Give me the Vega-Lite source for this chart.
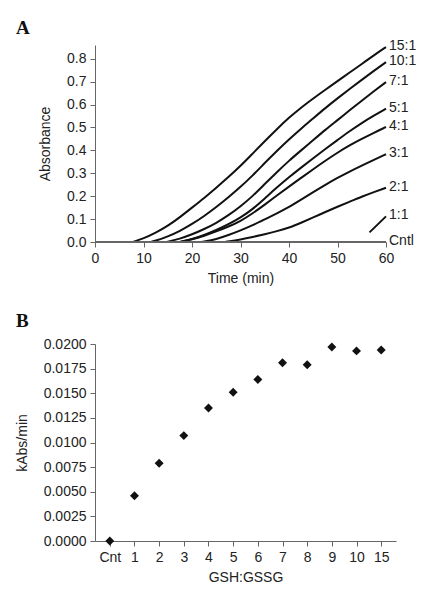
{
  "$schema": "https://vega.github.io/schema/vega-lite/v6.json",
  "background": "white",
  "padding": {"left": 15, "top": 19, "right": 5, "bottom": 5},
  "spacing": 27,
  "config": {
    "font": "Liberation Sans",
    "view": {"stroke": null},
    "axis": {
      "grid": false,
      "labelFontSize": 14,
      "titleFontSize": 14,
      "labelColor": "#222",
      "titleColor": "#222",
      "titleFontWeight": "normal",
      "domainColor": "#666",
      "tickColor": "#666",
      "tickSize": 5,
      "labelPadding": 4,
      "labelFlush": false
    },
    "axisX": {"titlePadding": 6},
    "axisY": {"titlePadding": 14},
    "title": {"font": "Liberation Serif", "fontSize": 19, "fontWeight": "bold", "color": "#111", "anchor": "start", "frame": "group", "dx": -79}
  },
  "datasets": {
    "curves": [
      {"series": "15:1", "t": 7.8, "absorbance": 0},
      {"series": "15:1", "t": 10, "absorbance": 0.015},
      {"series": "15:1", "t": 12.5, "absorbance": 0.04},
      {"series": "15:1", "t": 15, "absorbance": 0.07},
      {"series": "15:1", "t": 17.5, "absorbance": 0.108},
      {"series": "15:1", "t": 20, "absorbance": 0.15},
      {"series": "15:1", "t": 22.5, "absorbance": 0.192},
      {"series": "15:1", "t": 25, "absorbance": 0.237},
      {"series": "15:1", "t": 27.5, "absorbance": 0.283},
      {"series": "15:1", "t": 30, "absorbance": 0.332},
      {"series": "15:1", "t": 32.5, "absorbance": 0.386},
      {"series": "15:1", "t": 35, "absorbance": 0.44},
      {"series": "15:1", "t": 37.5, "absorbance": 0.493},
      {"series": "15:1", "t": 40, "absorbance": 0.543},
      {"series": "15:1", "t": 42.5, "absorbance": 0.587},
      {"series": "15:1", "t": 45, "absorbance": 0.627},
      {"series": "15:1", "t": 47.5, "absorbance": 0.665},
      {"series": "15:1", "t": 50, "absorbance": 0.702},
      {"series": "15:1", "t": 52.5, "absorbance": 0.74},
      {"series": "15:1", "t": 55, "absorbance": 0.777},
      {"series": "15:1", "t": 57.5, "absorbance": 0.815},
      {"series": "15:1", "t": 60, "absorbance": 0.851},
      {"series": "10:1", "t": 11.5, "absorbance": 0},
      {"series": "10:1", "t": 12.5, "absorbance": 0.005},
      {"series": "10:1", "t": 15, "absorbance": 0.024},
      {"series": "10:1", "t": 17.5, "absorbance": 0.048},
      {"series": "10:1", "t": 20, "absorbance": 0.078},
      {"series": "10:1", "t": 22.5, "absorbance": 0.113},
      {"series": "10:1", "t": 25, "absorbance": 0.152},
      {"series": "10:1", "t": 27.5, "absorbance": 0.195},
      {"series": "10:1", "t": 30, "absorbance": 0.24},
      {"series": "10:1", "t": 32.5, "absorbance": 0.29},
      {"series": "10:1", "t": 35, "absorbance": 0.345},
      {"series": "10:1", "t": 37.5, "absorbance": 0.398},
      {"series": "10:1", "t": 40, "absorbance": 0.448},
      {"series": "10:1", "t": 42.5, "absorbance": 0.495},
      {"series": "10:1", "t": 45, "absorbance": 0.54},
      {"series": "10:1", "t": 47.5, "absorbance": 0.585},
      {"series": "10:1", "t": 50, "absorbance": 0.627},
      {"series": "10:1", "t": 52.5, "absorbance": 0.668},
      {"series": "10:1", "t": 55, "absorbance": 0.708},
      {"series": "10:1", "t": 57.5, "absorbance": 0.747},
      {"series": "10:1", "t": 60, "absorbance": 0.785},
      {"series": "7:1", "t": 14.8, "absorbance": 0},
      {"series": "7:1", "t": 17.5, "absorbance": 0.014},
      {"series": "7:1", "t": 20, "absorbance": 0.033},
      {"series": "7:1", "t": 22.5, "absorbance": 0.056},
      {"series": "7:1", "t": 25, "absorbance": 0.083},
      {"series": "7:1", "t": 27.5, "absorbance": 0.116},
      {"series": "7:1", "t": 30, "absorbance": 0.155},
      {"series": "7:1", "t": 32.5, "absorbance": 0.2},
      {"series": "7:1", "t": 35, "absorbance": 0.253},
      {"series": "7:1", "t": 37.5, "absorbance": 0.305},
      {"series": "7:1", "t": 40, "absorbance": 0.355},
      {"series": "7:1", "t": 42.5, "absorbance": 0.4},
      {"series": "7:1", "t": 45, "absorbance": 0.445},
      {"series": "7:1", "t": 47.5, "absorbance": 0.49},
      {"series": "7:1", "t": 50, "absorbance": 0.532},
      {"series": "7:1", "t": 52.5, "absorbance": 0.575},
      {"series": "7:1", "t": 55, "absorbance": 0.617},
      {"series": "7:1", "t": 57.5, "absorbance": 0.658},
      {"series": "7:1", "t": 60, "absorbance": 0.698},
      {"series": "5:1", "t": 17.5, "absorbance": 0},
      {"series": "5:1", "t": 20, "absorbance": 0.012},
      {"series": "5:1", "t": 22.5, "absorbance": 0.03},
      {"series": "5:1", "t": 25, "absorbance": 0.052},
      {"series": "5:1", "t": 27.5, "absorbance": 0.077},
      {"series": "5:1", "t": 30, "absorbance": 0.106},
      {"series": "5:1", "t": 32.5, "absorbance": 0.143},
      {"series": "5:1", "t": 35, "absorbance": 0.19},
      {"series": "5:1", "t": 37.5, "absorbance": 0.238},
      {"series": "5:1", "t": 40, "absorbance": 0.283},
      {"series": "5:1", "t": 42.5, "absorbance": 0.325},
      {"series": "5:1", "t": 45, "absorbance": 0.366},
      {"series": "5:1", "t": 47.5, "absorbance": 0.406},
      {"series": "5:1", "t": 50, "absorbance": 0.445},
      {"series": "5:1", "t": 52.5, "absorbance": 0.484},
      {"series": "5:1", "t": 55, "absorbance": 0.52},
      {"series": "5:1", "t": 57.5, "absorbance": 0.552},
      {"series": "5:1", "t": 60, "absorbance": 0.582},
      {"series": "4:1", "t": 17.5, "absorbance": 0},
      {"series": "4:1", "t": 20, "absorbance": 0.011},
      {"series": "4:1", "t": 22.5, "absorbance": 0.027},
      {"series": "4:1", "t": 25, "absorbance": 0.046},
      {"series": "4:1", "t": 27.5, "absorbance": 0.067},
      {"series": "4:1", "t": 30, "absorbance": 0.091},
      {"series": "4:1", "t": 32.5, "absorbance": 0.125},
      {"series": "4:1", "t": 35, "absorbance": 0.163},
      {"series": "4:1", "t": 37.5, "absorbance": 0.203},
      {"series": "4:1", "t": 40, "absorbance": 0.242},
      {"series": "4:1", "t": 42.5, "absorbance": 0.28},
      {"series": "4:1", "t": 45, "absorbance": 0.318},
      {"series": "4:1", "t": 47.5, "absorbance": 0.355},
      {"series": "4:1", "t": 50, "absorbance": 0.39},
      {"series": "4:1", "t": 52.5, "absorbance": 0.422},
      {"series": "4:1", "t": 55, "absorbance": 0.45},
      {"series": "4:1", "t": 57.5, "absorbance": 0.477},
      {"series": "4:1", "t": 60, "absorbance": 0.502},
      {"series": "3:1", "t": 21.7, "absorbance": 0},
      {"series": "3:1", "t": 22.5, "absorbance": 0.002},
      {"series": "3:1", "t": 25, "absorbance": 0.012},
      {"series": "3:1", "t": 27.5, "absorbance": 0.03},
      {"series": "3:1", "t": 30, "absorbance": 0.05},
      {"series": "3:1", "t": 32.5, "absorbance": 0.073},
      {"series": "3:1", "t": 35, "absorbance": 0.099},
      {"series": "3:1", "t": 37.5, "absorbance": 0.125},
      {"series": "3:1", "t": 40, "absorbance": 0.152},
      {"series": "3:1", "t": 42.5, "absorbance": 0.185},
      {"series": "3:1", "t": 45, "absorbance": 0.218},
      {"series": "3:1", "t": 47.5, "absorbance": 0.25},
      {"series": "3:1", "t": 50, "absorbance": 0.28},
      {"series": "3:1", "t": 52.5, "absorbance": 0.308},
      {"series": "3:1", "t": 55, "absorbance": 0.334},
      {"series": "3:1", "t": 57.5, "absorbance": 0.359},
      {"series": "3:1", "t": 60, "absorbance": 0.383},
      {"series": "2:1", "t": 26.7, "absorbance": 0},
      {"series": "2:1", "t": 27.5, "absorbance": 0.002},
      {"series": "2:1", "t": 30, "absorbance": 0.011},
      {"series": "2:1", "t": 32.5, "absorbance": 0.022},
      {"series": "2:1", "t": 35, "absorbance": 0.034},
      {"series": "2:1", "t": 37.5, "absorbance": 0.047},
      {"series": "2:1", "t": 40, "absorbance": 0.062},
      {"series": "2:1", "t": 42.5, "absorbance": 0.084},
      {"series": "2:1", "t": 45, "absorbance": 0.107},
      {"series": "2:1", "t": 47.5, "absorbance": 0.131},
      {"series": "2:1", "t": 50, "absorbance": 0.154},
      {"series": "2:1", "t": 52.5, "absorbance": 0.176},
      {"series": "2:1", "t": 55, "absorbance": 0.198},
      {"series": "2:1", "t": 57.5, "absorbance": 0.218},
      {"series": "2:1", "t": 60, "absorbance": 0.237},
      {"series": "1:1", "t": 56.6, "absorbance": 0.042},
      {"series": "1:1", "t": 60, "absorbance": 0.112},
      {"series": "Cntl", "t": 0, "absorbance": 0},
      {"series": "Cntl", "t": 60, "absorbance": 0}
    ],
    "rates": [
      {"ratio": "Cnt", "rate": 0.0},
      {"ratio": "1", "rate": 0.0046},
      {"ratio": "2", "rate": 0.0079},
      {"ratio": "3", "rate": 0.0107},
      {"ratio": "4", "rate": 0.0135},
      {"ratio": "5", "rate": 0.0151},
      {"ratio": "6", "rate": 0.0164},
      {"ratio": "7", "rate": 0.0181},
      {"ratio": "8", "rate": 0.0179},
      {"ratio": "9", "rate": 0.0197},
      {"ratio": "10", "rate": 0.0193},
      {"ratio": "15", "rate": 0.0194}
    ]
  },
  "vconcat": [
    {
      "title": {"text": "A", "offset": 1},
      "width": 291,
      "height": 197,
      "data": {"name": "curves"},
      "encoding": {
        "x": {"field": "t", "type": "quantitative", "scale": {"domain": [0, 60]}, "axis": {"values": [0, 10, 20, 30, 40, 50, 60], "title": "Time (min)"}},
        "y": {"field": "absorbance", "type": "quantitative", "scale": {"domain": [0, 0.86], "nice": false}, "axis": {"values": [0, 0.1, 0.2, 0.3, 0.4, 0.5, 0.6, 0.7, 0.8], "format": ".1f", "title": "Absorbance"}}
      },
      "layer": [
        {
          "mark": {"type": "line", "interpolate": "basis", "strokeWidth": 2},
          "encoding": {
            "detail": {"field": "series"},
            "color": {"condition": {"test": "datum.series === 'Cntl'", "value": "#666"}, "value": "#111"},
            "strokeWidth": {"condition": {"test": "datum.series === 'Cntl'", "value": 1}, "value": 2}
          }
        },
        {
          "transform": [{"filter": "datum.t === 60"}],
          "mark": {"type": "text", "align": "left", "baseline": "middle", "dx": 3, "dy": -1, "fontSize": 14, "color": "#222"},
          "encoding": {"text": {"field": "series"}}
        }
      ]
    },
    {
      "title": {"text": "B", "offset": 6},
      "width": 301,
      "height": 197,
      "data": {"name": "rates"},
      "mark": {"type": "point", "shape": "diamond", "filled": true, "size": 80, "color": "#111", "opacity": 1},
      "encoding": {
        "x": {"field": "ratio", "type": "ordinal", "sort": ["Cnt", "1", "2", "3", "4", "5", "6", "7", "8", "9", "10", "15"], "scale": {"type": "point", "padding": 0.6}, "axis": {"labelAngle": 0, "title": "GSH:GSSG"}},
        "y": {"field": "rate", "type": "quantitative", "scale": {"domain": [0, 0.02], "nice": false}, "axis": {"values": [0, 0.0025, 0.005, 0.0075, 0.01, 0.0125, 0.015, 0.0175, 0.02], "format": ".4f", "title": "kAbs/min"}}
      }
    }
  ]
}
